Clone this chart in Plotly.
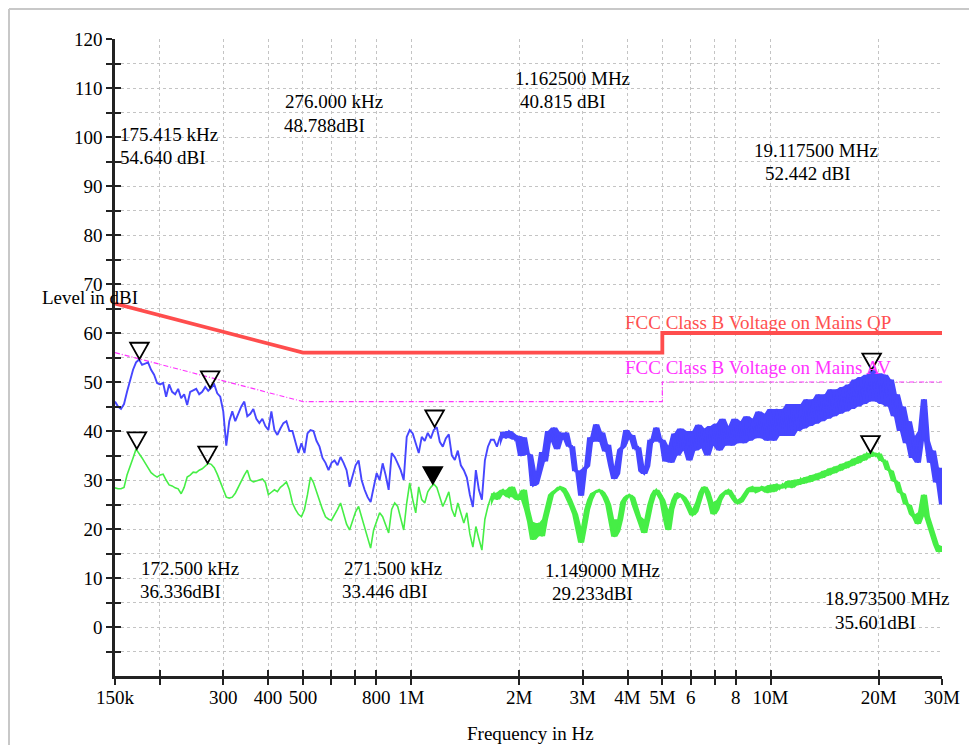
import numpy as np
import plotly.graph_objects as go

# ---------------- data ----------------
# measurement sweep grid (Hz), log spaced from 150 kHz to 30 MHz
sweep_hz = np.geomspace(150e3, 30e6, 276)

# peak detector trace (blue)
peak_level = [
    46, 45, 44.5, 45.5, 48, 50.5, 52.5, 54, 54.6, 53.5,
    53.8, 54, 52.5, 51.5, 49.8, 49.5, 49.8, 47, 49.5, 48,
    47.5, 48.6, 46.7, 47.5, 45.3, 48, 48.3, 48.6, 47.5, 48,
    49, 48.2, 48.8, 49.5, 47.7, 47, 44, 37, 42, 44,
    42, 43.5, 45, 46, 43, 43.5, 44.5, 42.5, 41.6, 42.5,
    41, 40.2, 44, 40.2, 39.2, 40.5, 41.6, 42, 40, 40,
    37.5, 35.5, 37.5, 35.5, 39.5, 40.2, 40, 38, 36.8, 34.5,
    33.5, 32, 33.5, 34, 33, 34.7, 33.5, 32, 28.6, 31,
    33, 34, 30, 28, 26.5, 25.5, 28.6, 31.4, 30, 33.4,
    31, 28, 35.5, 34.7, 33.4, 32, 30, 38.8, 40.2, 39.5,
    37.5, 35.5, 38.8, 38, 39.6, 38.5, 40.2, 40.8, 37.8, 36.8,
    38.5, 39.3, 35, 34.1, 36, 33, 32, 30.5, 27, 24.5,
    32, 28, 26, 34, 36.8, 38.2, 38.2, 36.8, 38.8, 39.8,
    38.5, 40, 39.5, 38.2, 39, 34.9, 38.7, 35.3, 35.2, 28.8,
    29.2, 31.8, 35.7, 33.8, 40.0, 37.8, 40.7, 36.3, 39.7, 38.3,
    39.7, 36.8, 36.9, 31.8, 31.8, 26.8, 32.2, 32.8, 38.7, 37.8,
    41.4, 37.8, 39.7, 35.8, 37.2, 32.8, 30.2, 31.3, 36.2, 36.8,
    40.2, 38.3, 39.2, 36.3, 36.7, 31.8, 31.2, 32.8, 38.2, 37.8,
    40.7, 37.8, 38.2, 33.8, 37.0, 33.5, 39.5, 35.0, 40.5, 36.0,
    40.0, 34.0, 40.0, 36.0, 41.3, 36.5, 40.5, 35.0, 41.0, 37.0,
    41.5, 36.0, 42.5, 37.0, 41.0, 37.0, 42.5, 37.5, 42.0, 37.5,
    43.0, 38.0, 42.5, 38.5, 44.0, 38.5, 43.5, 38.0, 44.5, 38.0,
    44.5, 39.0, 44.5, 39.0, 45.5, 39.0, 45.5, 40.0, 45.5, 40.5,
    46.5, 41.0, 46.5, 41.5, 47.5, 42.0, 47.5, 42.5, 48.5, 43.0,
    48.5, 43.5, 49.0, 44.0, 49.5, 44.5, 50.5, 45.0, 51.0, 45.5,
    51.5, 46.0, 52.4, 46.0, 51.8, 45.5, 51.5, 45.0, 50.5, 43.0,
    47.5, 40.0, 45.0, 37.5, 42.0, 34.5, 39.0, 33.5, 40.0, 46.5,
    38.0, 33.5, 36.0, 29.5, 32.5, 25.0,
]

# average detector trace (green)
avg_level = [
    28.4, 28.2, 28.2, 28.5, 31, 33, 34.5, 36.3, 35.5, 34.5,
    33.5, 32.5, 31.5, 31, 30.6, 31, 31.2, 30, 29, 28.8,
    28.4, 28.2, 27.2, 28.5, 30.6, 31, 31.6, 31.5, 32, 32.3,
    32.8, 33.4, 33.2, 32.5, 31.2, 29.5, 28, 26.5, 26.3, 26.5,
    27.3, 28.6, 30, 31, 32, 30, 29.6, 29.8, 30, 30.2,
    29.5, 27, 27.5, 28, 27.6, 28.5, 29, 29.6, 28, 25.3,
    24, 23, 22.5, 24, 27, 30.6, 29.5, 27.5, 25.5, 24,
    22.5, 22, 21.8, 22.8, 24, 25.3, 23, 21, 19.8, 21.8,
    23.5, 24.6, 22.5, 20, 17.8, 16.1, 19.8, 21.5, 23.3, 22.5,
    21, 19.2, 24, 25.3, 24.6, 22, 19.8, 25.3, 29.4, 26,
    23.3, 28.6, 26, 25.3, 27.6, 28.5, 29.2, 28.5, 26.5, 24.6,
    26, 27.6, 24, 22.5, 25.3, 23, 21.2, 23.3, 19, 16.3,
    20.5, 18, 15.7, 22, 24.6, 26.5, 27.3, 26, 27.5, 28,
    27, 26.5, 28.6, 27, 25.9, 27, 28, 24, 21.5, 17.8,
    20, 21.2, 18.5, 22, 24.6, 27, 27.6, 28, 28.6, 28.3,
    27.3, 26, 24.6, 23, 20, 17.2, 20.5, 24, 26, 27.3,
    27.6, 28, 27.5, 26.5, 25, 22, 18.4, 19.5, 22, 25.5,
    26.5, 27, 26.5, 24.5, 22.5, 21, 19.2, 22, 25, 27,
    28, 27, 25.9, 22.5, 19.8, 24, 26, 27.3, 27, 26.5,
    25.5, 24.2, 22.8, 23.5, 25.5, 27.5, 28.6, 27.5, 25.5, 23,
    24, 25.9, 27, 27.5, 28, 27, 26, 25.2, 25.5, 26.5,
    27.5, 28.3, 28.6, 27.5, 27.8, 28.6, 28.4, 27.4, 29.0, 27.6,
    29.2, 28.2, 29.1, 28.4, 29.8, 28.4, 30.0, 29.0, 30.2, 29.3,
    30.6, 29.6, 31.0, 30.0, 31.4, 30.4, 31.9, 30.9, 32.4, 31.4,
    32.8, 31.9, 33.3, 32.4, 33.8, 32.9, 34.4, 33.4, 34.9, 34.0,
    35.4, 34.7, 35.6, 34.9, 35.4, 33.9, 34.0, 32.1, 31.9, 29.8,
    29.6, 27.5, 27.2, 25.1, 24.9, 23.0, 22.4, 21.0, 23.4, 27.0,
    22.6, 20.5, 18.5, 16.8, 15.3, 16.5,
]

# FCC Class B limits
limit_freq = [150e3, 500e3, 5e6, 5e6, 30e6]
limit_qp = [66, 56, 56, 60, 60]
limit_av = [56, 46, 46, 50, 50]

# marker peaks
pk_freq = [175.415e3, 276.0e3, 1.1625e6, 19.1175e6]
pk_val = [54.640, 48.788, 40.815, 52.442]
pk_line1 = ["175.415 kHz", "276.000 kHz", "1.162500 MHz", "19.117500 MHz"]
pk_line2 = ["54.640 dBI", "48.788dBI", "40.815 dBI", "52.442 dBI"]

av_freq = [172.5e3, 271.5e3, 1.149e6, 18.9735e6]
av_val = [36.336, 33.446, 29.233, 35.601]
av_line1 = ["172.500 kHz", "271.500 kHz", "1.149000 MHz", "18.973500 MHz"]
av_line2 = ["36.336dBI", "33.446 dBI", "29.233dBI", "35.601dBI"]
av_filled = [False, False, True, False]

x_tickvals = [150e3, 200e3, 300e3, 400e3, 500e3, 600e3, 700e3, 800e3, 1e6,
              2e6, 3e6, 4e6, 5e6, 6e6, 7e6, 8e6, 10e6, 20e6, 30e6]
x_ticktext = ["150k", "", "300", "400", "500", "", "", "800", "1M",
              "2M", "3M", "4M", "5M", "6", "", "8", "10M", "20M", "30M"]
y_tickvals = list(range(-5, 121, 5))
y_ticktext = [str(v) if v % 10 == 0 and v >= 0 else "" for v in y_tickvals]

# ---------------- layout geometry ----------------
OFF = 8                      # page body margin of the html page
W, H = 977 - OFF, 745 - OFF  # figure size
ML, MR, MT, MB = 115 - OFF, 35, 39 - OFF, 69
PW, PH = W - ML - MR, H - MT - MB
FONT = "Liberation Serif"
FS = 19

BLUE = "#4646ff"
GREEN = "#46ee46"


def pxx(px):  # page pixel -> paper x
    return (px - OFF - ML) / PW


def pxy(py):  # page pixel -> paper y
    return (OFF + H - MB - py) / PH


def envelope(vals, start):
    v = np.asarray(vals, dtype=float)
    up, lo = [], []
    for j in range(start, len(v)):
        seg = v[max(j - 1, 0):j + 2]
        up.append(seg.max())
        lo.append(seg.min())
    return up, lo


fig = go.Figure()

fig.add_trace(go.Scatter(x=limit_freq, y=limit_qp, mode="lines",
                         line=dict(color="#ff4d4d", width=3.8), hoverinfo="skip"))
fig.add_trace(go.Scatter(x=limit_freq, y=limit_av, mode="lines",
                         line=dict(color="#ff33ff", width=1.2, dash="5px,2px,1px,2px"),
                         hoverinfo="skip"))

# green: dense-region body
g_start = 125
g_up, g_lo = envelope(avg_level, g_start)
fig.add_trace(go.Scatter(x=sweep_hz[g_start:], y=g_up, mode="lines",
                         line=dict(color=GREEN, width=0), hoverinfo="skip"))
fig.add_trace(go.Scatter(x=sweep_hz[g_start:], y=g_lo, mode="lines", fill="tonexty",
                         fillcolor=GREEN, line=dict(color=GREEN, width=0), hoverinfo="skip"))
fig.add_trace(go.Scatter(x=sweep_hz[:g_start + 1], y=avg_level[:g_start + 1], mode="lines",
                         line=dict(color=GREEN, width=1.6)))
fig.add_trace(go.Scatter(x=sweep_hz[g_start:], y=avg_level[g_start:], mode="lines",
                         line=dict(color=GREEN, width=2.2)))

# blue: dense-region body
b_start = 128
b_up, b_lo = envelope(peak_level, b_start)
fig.add_trace(go.Scatter(x=sweep_hz[b_start:], y=b_up, mode="lines",
                         line=dict(color=BLUE, width=0), hoverinfo="skip"))
fig.add_trace(go.Scatter(x=sweep_hz[b_start:], y=b_lo, mode="lines", fill="tonexty",
                         fillcolor=BLUE, line=dict(color=BLUE, width=0), hoverinfo="skip"))
fig.add_trace(go.Scatter(x=sweep_hz, y=peak_level, mode="lines",
                         line=dict(color=BLUE, width=1.9)))

# dummy trace for overlay axes (inner tick halves)
fig.add_trace(go.Scatter(x=[], y=[], xaxis="x2", yaxis="y2", showlegend=False))

shapes = []
tri_path = "M-9.3,16.5 L9.3,16.5 L0,0 Z"
for f, v in zip(pk_freq, pk_val):
    shapes.append(dict(type="path", xref="x", yref="y", xsizemode="pixel", ysizemode="pixel",
                       xanchor=f, yanchor=v, path=tri_path,
                       line=dict(color="black", width=1.8), fillcolor="rgba(0,0,0,0)"))
for f, v, filled in zip(av_freq, av_val, av_filled):
    shapes.append(dict(type="path", xref="x", yref="y", xsizemode="pixel", ysizemode="pixel",
                       xanchor=f, yanchor=v, path=tri_path,
                       line=dict(color="black", width=1.8),
                       fillcolor="black" if filled else "rgba(0,0,0,0)"))
# outer frame (drawn at figure's top-left edge)
shapes.append(dict(type="line", xref="paper", yref="paper", x0=pxx(9), x1=pxx(9),
                   y0=pxy(9), y1=pxy(745), line=dict(color="#c8c8c8", width=2)))
shapes.append(dict(type="line", xref="paper", yref="paper", x0=pxx(9), x1=pxx(977),
                   y0=pxy(9), y1=pxy(9), line=dict(color="#c8c8c8", width=2)))

annotations = []


def add_text(px, py, text, color="black", xanchor="left"):
    annotations.append(dict(xref="paper", yref="paper", x=pxx(px), y=pxy(py), text=text,
                            showarrow=False, xanchor=xanchor, yanchor="middle",
                            font=dict(family=FONT, size=FS, color=color)))


# marker labels (left edge, centre of each line) in page pixels
pk_pos = [((118, 135), (118, 157)), ((283, 102), (282, 125)),
          ((513, 79), (518, 102)), ((752, 150), (763, 173))]
av_pos = [((139, 568), (138, 591)), ((342, 568), (340, 591)),
          ((543, 570), (550, 593)), ((823, 598), (833, 622))]
for (p1, p2), t1, t2 in zip(pk_pos, pk_line1, pk_line2):
    add_text(p1[0], p1[1], t1)
    add_text(p2[0], p2[1], t2)
for (p1, p2), t1, t2 in zip(av_pos, av_line1, av_line2):
    add_text(p1[0], p1[1], t1)
    add_text(p2[0], p2[1], t2)

add_text(623, 322, "FCC Class B Voltage on Mains QP", color="#ff5050")
add_text(623, 368, "FCC Class B Voltage on Mains AV", color="#ff33ff")
add_text(40, 297, "Level in dBI")
add_text(530, 733, "Frequency in Hz", xanchor="center")

xr = [np.log10(150e3), np.log10(30e6)]
yr = [-10, 120]
tickfont = dict(family=FONT, size=FS, color="black")

fig.update_layout(
    width=W, height=H,
    margin=dict(l=ML, r=MR, t=MT, b=MB, pad=0),
    paper_bgcolor="white", plot_bgcolor="white",
    showlegend=False,
    shapes=shapes, annotations=annotations,
    xaxis=dict(type="log", range=xr, tickvals=x_tickvals, ticktext=x_ticktext,
               tickfont=tickfont, ticks="outside", ticklen=6, tickwidth=2, tickcolor="#222",
               ticklabelstandoff=-4,
               showline=True, linecolor="#222", linewidth=2.5,
               showgrid=True, gridcolor="#c4c4c4", griddash="dot", gridwidth=1,
               zeroline=False, fixedrange=True),
    yaxis=dict(range=yr, tickvals=y_tickvals, ticktext=y_ticktext,
               tickfont=tickfont, ticks="outside", ticklen=6, tickwidth=2, tickcolor="#222",
               showline=True, linecolor="#222", linewidth=2.5,
               showgrid=True, gridcolor="#c4c4c4", griddash="dot", gridwidth=1,
               zeroline=False, fixedrange=True),
    xaxis2=dict(type="log", range=xr, overlaying="x", anchor="y", side="bottom",
                tickvals=x_tickvals, ticks="inside", ticklen=6, tickwidth=2, tickcolor="#222",
                showticklabels=False, showgrid=False, showline=False, zeroline=False),
    yaxis2=dict(range=yr, overlaying="y", anchor="x", side="left",
                tickvals=y_tickvals, ticks="inside", ticklen=6, tickwidth=2, tickcolor="#222",
                showticklabels=False, showgrid=False, showline=False, zeroline=False),
)

fig.write_html("out.html")
